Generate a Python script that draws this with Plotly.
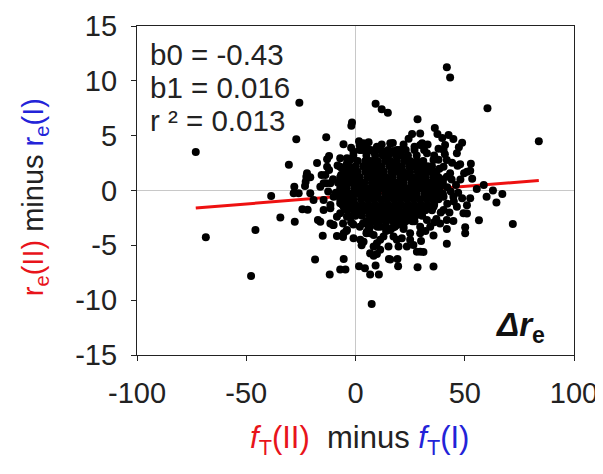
import plotly.graph_objects as go

# ---- data ----
# sparse / outer points: fT(II)-fT(I) and re(II)-re(I)
fT_outer = [
    -73.1, -68.5, -47.8, -45.8, -38.6, -34.4, -30.5, -27.1, -25.7, -28.0, -28.3, -26.0,
    -27.8, -24.3, -21.9, -22.5, -22.8, -22.2, -23.1, -20.7, -19.2, -20.7, -18.5, -17.6,
    -17.2, -15.5, -15.0, -14.6, -14.6, -13.4, -13.4, -13.0, -13.0, -12.1, -12.1, -11.8,
    -11.5, -11.5, -10.3, -10.3, -8.5, -7.0, -4.6, -8.2, -7.0, -7.0, -6.6, -6.2,
    -5.5, -5.7, -5.4, -4.2, -5.7, -5.4, -5.4, -5.4, -4.5, -3.9, -2.4, -2.4,
    -1.6, -1.9, -0.9, -0.9, 1.6, 1.9, 1.6, 2.2, 2.8, 3.4, 3.7, 3.7,
    4.3, 5.2, 5.2, 6.7, 6.7, 6.7, 6.7, 7.4, 8.3, 8.3, 8.3, 8.3,
    9.2, 9.2, 9.8, 9.8, 9.8, 10.7, 11.3, 11.3, 11.3, 12.0, 12.1, 12.8,
    14.8, 15.1, 15.3, 15.9, 15.9, 15.9, 17.1, 17.1, 17.4, 18.9, 18.9, 19.2,
    19.5, 19.7, 21.2, 23.5, 24.3, 25.0, 25.0, 25.9, 26.5, 28.1, 28.4, 28.4,
    29.6, 29.6, 29.6, 29.6, 29.6, 30.5, 31.1, 31.4, 32.7, 32.7, 34.2, 35.7,
    35.7, 35.7, 35.7, 36.3, 37.5, 38.4, 38.7, 38.7, 39.7, 40.3, 40.3, 40.3,
    40.3, 41.0, 40.9, 41.8, 41.8, 41.8, 41.8, 41.8, 41.8, 42.6, 43.3, 43.3,
    43.6, 44.2, 44.8, 44.8, 44.8, 46.4, 46.4, 46.7, 47.3, 47.9, 48.8, 48.8,
    49.4, 49.7, 50.2, 50.2, 51.0, 51.0, 51.0, 52.5, 52.8, 52.5, 53.4, 55.5,
    56.5, 58.7, 60.0, 60.4, 62.9, 64.5, 67.2, 72.0, 83.9,
]
re_outer = [
    3.5, -4.27, -7.8, -3.6, -0.5, -2.47, 2.35, 4.67, 8.0, 0.35, -0.26, -0.26,
    -2.84, -1.72, -1.75, 1.26, 0.8, 1.57, 0.41, -0.26, -0.87, 1.2, -6.3, 2.5,
    -2.7, 1.41, -4.13, 0.66, -1.78, 4.85, 0.66, 2.84, 2.17, 3.14, 1.87, -7.65,
    -1.32, -3.0, -3.14, 1.02, -2.39, -7.2, -7.2, 2.29, 2.93, 2.17, 1.41, 2.02,
    4.22, -3.0, -3.9, -3.7, -4.24, -6.24, 0.96, -1.48, 2.17, 2.93, 2.78, -2.39,
    6.2, 5.9, 3.54, -4.36, 4.5, 3.7, -6.9, -4.5, -5.0, -3.0, -4.67, 4.3,
    -7.1, 3.85, -3.75, -7.65, -3.3, -3.9, -5.73, -10.35, 3.54, -4.05, -5.1, -5.94,
    7.9, -6.85, 4.0, -4.82, -5.8, -7.65, -5.4, -4.5, -3.3, 7.4, 3.63, -4.2,
    7.1, -5.1, -6.24, 4.3, -3.6, -6.3, 4.33, 3.6, -4.2, -3.14, -4.5, -6.24,
    -6.9, -5.1, -4.36, -5.1, 4.72, -3.9, -4.5, 5.15, -4.97, -5.58, 6.5, -7.0,
    5.2, 4.15, -3.3, -3.9, -5.58, 4.3, -5.6, 3.69, 3.39, -2.69, -3.3, 2.78,
    -1.48, -4.1, -6.94, 5.7, 5.15, 1.99, 0.35, -3.0, 4.79, 3.69, 2.17, -0.56,
    -1.78, 4.15, 3.3, 11.25, 2.78, 1.26, -2.69, -3.5, -4.85, 5.05, 10.3, 1.57,
    -0.1, 2.53, 4.7, -0.56, -2.78, 3.4, -1.48, 2.26, 3.94, 2.4, 4.36, -0.71,
    -2.08, 1.57, -3.9, -3.35, 1.72, -1.35, -2.1, 1.8, 2.45, -0.7, 1.08, 0.14,
    -2.72, 0.5, -0.57, 7.5, 0.0, -1.1, -0.33, -3.05, 4.5,
]

# halo points around the dense cloud
fT_halo = [
    -13.8, -11.5, -16.1, -14.6, -10.0, -11.5, -7.0, -5.4, -5.4, -3.9, -16.1, -10.0,
    -3.9, -3.9, -8.5, -7.0, -9.0, -12.5, -2.0, -1.0,
    38.0, 40.0, 42.0, 44.0, 46.0, 45.0, 42.0, 39.0, 43.0, 37.0, 48.0, 47.0,
    36.0, 38.0, 33.0, 27.0, 22.0, 20.0, 12.0, 6.0, 2.0, -2.0,
    2.0, 14.0, 22.0, 27.0, 32.0, 10.0, 20.0, -1.0, 5.0, 17.0, 30.0, 36.0,
]
re_halo = [
    1.41, 0.66, 0.35, -0.87, -0.56, -1.62, -1.17, 0.05, 1.26, 2.48, -2.84, -3.14,
    -2.39, -3.6, -4.15, -2.08, -0.2, -0.1, -2.9, 3.2,
    2.8, 1.0, 0.3, 1.0, 0.5, -1.0, -1.2, -2.0, -2.0, -2.6, 1.0, -0.2,
    3.2, 3.8, 4.2, 4.0, 4.2, 3.7, 4.2, 4.4, 4.1, 3.9,
    -3.3, -3.7, -3.5, -2.8, -3.7, -2.9, -2.9, -3.1, -3.9, -3.4, -4.6, -2.9,
]

# dense central cloud, read row by row (re value, fT values on that row)
core_re_rows = [3.7, 3.2, 2.7, 2.2, 1.7, 1.2, 0.7, 0.2, -0.3, -0.8, -1.3, -1.8, -2.3, -2.8, -3.3]
core_fT_rows = [
    [3, 7, 11, 15, 19, 23, 27],
    [5, 9, 12.5, 15, 18.5, 21, 24, 28],
    [1, 4.5, 7, 10, 13.5, 16, 19, 22.5, 25, 28, 31],
    [-3, 0, 3.5, 6, 9, 12, 15.5, 18, 21, 24.5, 27, 30, 33, 35],
    [-5, -2, 1, 4.5, 7, 10, 13, 16.5, 19, 22, 25, 28.5, 31, 34, 37],
    [-7, -4, -1, 2, 5.5, 8, 11, 14, 17, 20.5, 23, 26, 29, 32, 35.5, 38],
    [-8, -5, -2, 1, 4, 7.5, 10, 13, 16, 19, 22, 25.5, 28, 31, 34, 37, 40],
    [-7, -4, -0.5, 2.5, 5.5, 8.5, 11.5, 14.5, 17.5, 20.5, 23.5, 26.5, 29.5, 32.5, 35.5, 38.5],
    [-8, -5, -2, 1, 4, 7, 10, 13.5, 16, 19, 22, 25, 28, 31.5, 34, 37, 40],
    [-7, -4, -1, 2.5, 5.5, 8.5, 11.5, 14.5, 17.5, 20.5, 23.5, 26.5, 29.5, 32.5, 35.5, 38],
    [-6, -3, 0, 3, 6, 9, 12, 15, 18, 21, 24, 27, 30, 33, 36],
    [-4, -1, 2, 5, 8, 11, 14, 17, 20, 23, 26, 29, 32, 35],
    [0, 3, 6.5, 9.5, 12.5, 15.5, 18.5, 21.5, 24.5, 27.5, 30.5],
    [5, 8, 11, 14, 17, 20, 23, 26],
    [6, 10, 14, 18, 22],
]

# regression
b0 = -0.43
b1 = 0.016
r2 = 0.013
line_fT = [-73.1, 83.9]

x_ticks = [-100, -50, 0, 50, 100]
x_tick_text = ["-100", "-50", "0", "50", "100"]
y_ticks = [-15, -10, -5, 0, 5, 10, 15]
y_tick_text = ["-15", "-10", "-5", "0", "5", "10", "15"]

# ---- build ----
core_x, core_y = [], []
for yv, xs in zip(core_re_rows, core_fT_rows):
    for xv in xs:
        core_x.append(xv)
        core_y.append(yv)

all_x = fT_outer + fT_halo + core_x
all_y = re_outer + re_halo + core_y
line_re = [b0 + b1 * v for v in line_fT]

FONT = "Liberation Sans, Arial, sans-serif"
fig = go.Figure()
fig.add_trace(go.Scatter(x=line_fT, y=line_re, mode="lines",
                         line=dict(color="#ee1111", width=3), hoverinfo="skip"))
fig.add_trace(go.Scatter(x=all_x, y=all_y, mode="markers",
                         marker=dict(color="black", size=8, line=dict(width=0))))

axis_common = dict(showgrid=False, zeroline=True, zerolinecolor="#c8c8c8", zerolinewidth=1,
                   showline=True, linecolor="#222222", linewidth=1.3, mirror=True,
                   ticks="outside", ticklen=5, tickcolor="#222222", tickwidth=1.3,
                   automargin=False,
                   tickfont=dict(family=FONT, size=29, color="#222222"))
fig.update_xaxes(range=[-100, 100], tickvals=x_ticks, ticktext=x_tick_text,
                 ticklabelstandoff=7, **axis_common)
fig.update_yaxes(range=[-15, 15], tickvals=y_ticks, ticktext=y_tick_text,
                 ticklabelstandoff=8, **axis_common)

RED = "#e8141b"
BLUE = "#2323d8"
ann = []
for i, txt in enumerate([f"b0 = {b0}", f"b1 = {b1}", f"r ² = {r2}"]):
    ann.append(dict(xref="paper", yref="paper", x=0.026, y=0.912 - i * 0.1003,
                    xanchor="left", yanchor="middle", showarrow=False, text=txt,
                    font=dict(family=FONT, size=29.5, color="#222222")))
ann.append(dict(xref="paper", yref="paper", x=0.51, y=-0.258, xanchor="center", yanchor="middle",
                showarrow=False,
                text=(f'<span style="color:{RED}"><i>f</i><sub>T</sub>(II)</span>'
                      f'  minus <span style="color:{BLUE}"><i>f</i><sub>T</sub>(I)</span>'),
                font=dict(family=FONT, size=31, color="#222222")))
ann.append(dict(xref="paper", yref="paper", x=-0.233, y=0.48, xanchor="center", yanchor="middle",
                textangle=-90, showarrow=False,
                text=(f'<span style="color:{RED}">r<sub>e</sub>(II)</span>'
                      f' minus <span style="color:{BLUE}">r<sub>e</sub>(I)</span>'),
                font=dict(family=FONT, size=29, color="#222222")))
ann.append(dict(xref="paper", yref="paper", x=0.938, y=0.015, xanchor="right", yanchor="bottom",
                showarrow=False, text="<b><i>Δr</i></b><b><sub>e</sub></b>",
                font=dict(family=FONT, size=33, color="#111111")))

# the page body adds an 8px margin, so the figure is 8px smaller on each side
fig.update_layout(width=595, height=466, paper_bgcolor="white", plot_bgcolor="white",
                  margin=dict(l=129, r=29, t=18, b=119), showlegend=False,
                  annotations=ann)
fig.write_html("out.html")
